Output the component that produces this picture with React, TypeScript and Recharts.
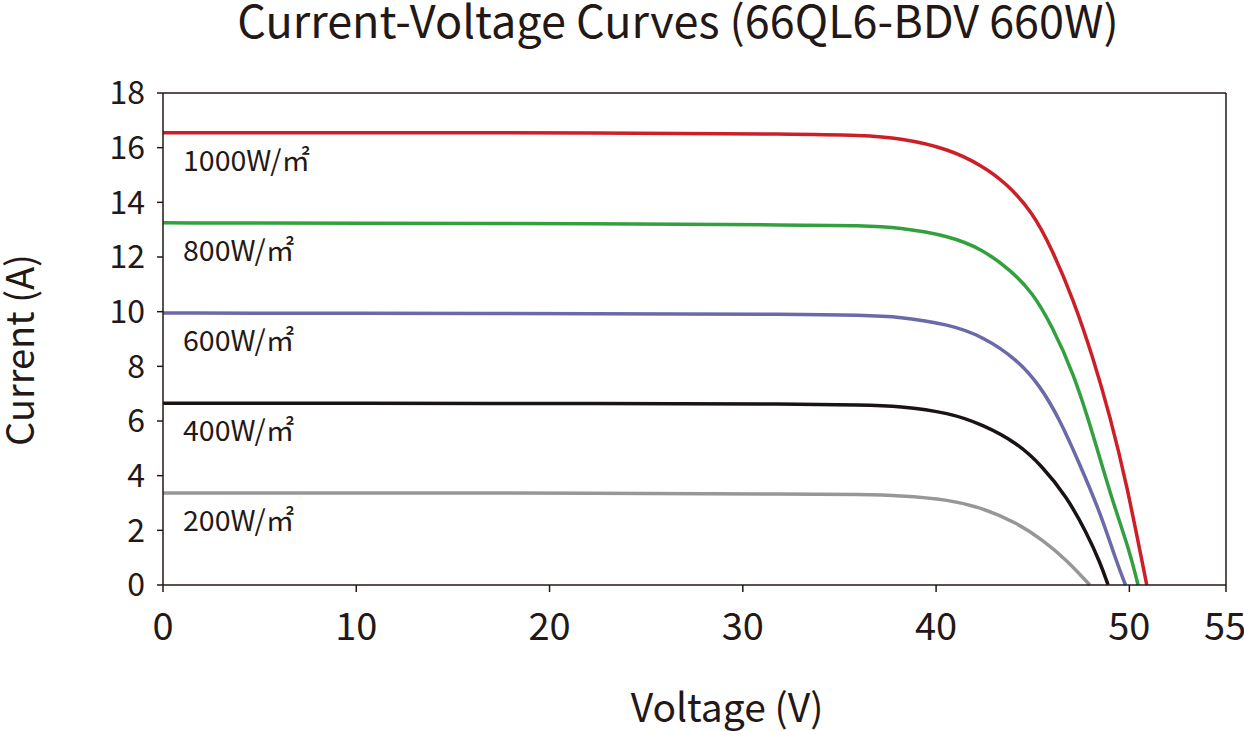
import { LineChart, Line, XAxis, YAxis, ReferenceLine } from "recharts";

/* ── Axis ticks ─────────────────────────────────────── */
const voltTicks = [0, 10, 20, 30, 40, 50, 55];
const currTicks = [0, 2, 4, 6, 8, 10, 12, 14, 16, 18];

/* ── I-V curves ─────────────────────────────────────── */
const v1000 = [0, 10, 22.6, 33.0, 36.1, 38.1, 40.7, 42.4, 43.6, 45.0, 46.0, 47.1, 48.1, 49.0, 49.85, 50.9];
const i1000 = [16.55, 16.55, 16.54, 16.5, 16.45, 16.36, 15.95, 15.33, 14.72, 13.64, 12.28, 10.45, 8.37, 6.17, 3.74, 0];

const v800 = [0, 10, 22.6, 33.0, 36.1, 38.1, 40.7, 42.4, 43.8, 45.0, 46.0, 47.1, 48.1, 49.1, 50.0, 50.45];
const i800 = [13.25, 13.24, 13.22, 13.17, 13.15, 13.08, 12.77, 12.28, 11.55, 10.7, 9.47, 7.77, 5.57, 3.12, 1.28, 0];

const v600 = [0, 10, 22.6, 33.0, 36.1, 38.1, 40.7, 42.4, 44.2, 45.4, 46.4, 47.4, 48.5, 49.3, 49.8];
const i600 = [9.95, 9.94, 9.93, 9.91, 9.87, 9.82, 9.53, 9.1, 8.25, 7.27, 6.05, 4.47, 2.64, 0.92, 0];

const v400 = [0, 10, 22.6, 33.0, 36.1, 38.1, 40.7, 42.4, 44.2, 45.5, 46.75, 47.8, 48.5, 48.9];
const i400 = [6.65, 6.65, 6.64, 6.62, 6.59, 6.55, 6.3, 5.87, 5.2, 4.34, 3.24, 1.9, 0.8, 0];

const v200 = [0, 10, 22.6, 33.0, 36.1, 38.1, 40.7, 42.4, 44.2, 45.5, 46.75, 47.95];
const i200 = [3.37, 3.37, 3.36, 3.33, 3.31, 3.28, 3.12, 2.82, 2.27, 1.65, 0.92, 0];

const irradiance = ["1000W/㎡", "800W/㎡", "600W/㎡", "400W/㎡", "200W/㎡"];

const toPoints = (vs: number[], is: number[]) => vs.map((v, k) => ({ v, i: is[k] }));

const curves = [
  { name: irradiance[0], data: toPoints(v1000, i1000), color: "#cc1f27" },
  { name: irradiance[1], data: toPoints(v800, i800), color: "#33a03f" },
  { name: irradiance[2], data: toPoints(v600, i600), color: "#6b69a8" },
  { name: irradiance[3], data: toPoints(v400, i400), color: "#1a1313" },
  { name: irradiance[4], data: toPoints(v200, i200), color: "#979797" },
];

const ink = "#231815";
const font = "'Noto Sans CJK SC', 'Noto Sans', sans-serif";

export default function App() {
  return (
    <div style={{ position: "absolute", left: 0, top: 0, width: 1244, height: 731, background: "#fff", fontFamily: font }}>
      <LineChart width={1244} height={731} margin={{ top: 93, right: 18, bottom: 86, left: 103 }}>
        <XAxis
          type="number"
          dataKey="v"
          domain={[0, 55]}
          ticks={voltTicks}
          allowDuplicatedCategory={false}
          height={60}
          stroke={ink}
          strokeWidth={1.5}
          tickSize={7}
          tickMargin={21}
          tick={{ fill: ink, fontSize: 38, fontFamily: font }}
        />
        <YAxis
          type="number"
          dataKey="i"
          domain={[0, 18]}
          ticks={currTicks}
          width={60}
          stroke={ink}
          strokeWidth={1.5}
          tickSize={6}
          tickMargin={12}
          tick={{ fill: ink, fontSize: 32, fontFamily: font }}
        />
        <ReferenceLine y={18} stroke={ink} strokeWidth={1.5} />
        <ReferenceLine x={55} stroke={ink} strokeWidth={1.5} />
        {curves.map((c) => (
          <Line
            key={c.name}
            data={c.data}
            dataKey="i"
            type="basis"
            stroke={c.color}
            strokeWidth={3.5}
            dot={false}
            isAnimationActive={false}
          />
        ))}
      </LineChart>

      {/* titles and irradiance labels */}
      <svg width={1244} height={731} style={{ position: "absolute", left: 0, top: 0, pointerEvents: "none" }}>
        <text x={678} y={38} textAnchor="middle" fontSize={45} fill={ink} fontFamily={font}>
          Current-Voltage Curves (66QL6-BDV 660W)
        </text>
        <text x={727} y={722} textAnchor="middle" fontSize={39} fill={ink} fontFamily={font}>
          Voltage (V)
        </text>
        <text transform="translate(34,350) rotate(-90)" textAnchor="middle" fontSize={38} fill={ink} fontFamily={font}>
          Current (A)
        </text>
        {irradiance.map((t, k) => (
          <text key={t} x={183} y={171 + k * 90} fontSize={28.5} fill={ink} fontFamily={font}>
            {t}
          </text>
        ))}
      </svg>
    </div>
  );
}
